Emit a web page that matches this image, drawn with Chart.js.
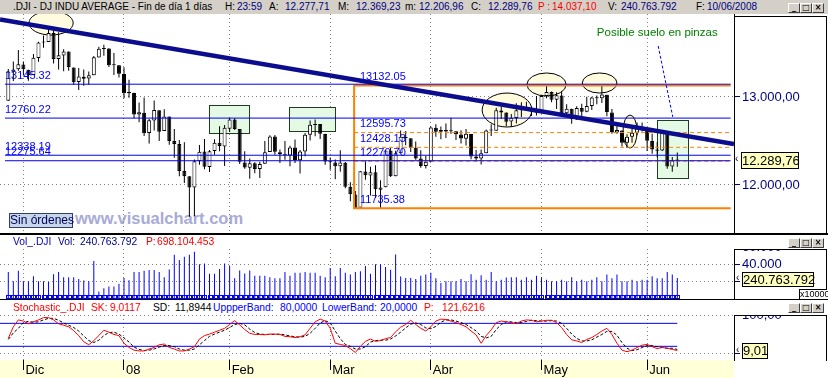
<!DOCTYPE html>
<html>
<head>
<meta charset="utf-8">
<script src="https://cdn.jsdelivr.net/npm/chart.js@4.4.1/dist/chart.umd.min.js"></script>
<style>
body{margin:0;width:828px;height:378px;position:relative;overflow:hidden;background:#fff;font-family:"Liberation Sans",Arial,sans-serif}
.a{position:absolute;white-space:nowrap;z-index:3}
.t{font-size:10px;line-height:14px;top:0}
.h{font-size:10.3px;line-height:13px}
.n{color:#000080}
.r{color:#ff0000}
.k{color:#000}
.b{color:#0000ff}
.pane{position:absolute;left:0;width:828px;z-index:1}
.btn{position:absolute;width:10px;height:8px;background:#d4d0c8;border:1px solid;border-color:#fff #404040 #404040 #fff;font:bold 8px/8px "DejaVu Sans",sans-serif;text-align:center;color:#000;z-index:3}
.box{position:absolute;border:1px solid #000;z-index:3}
.val{position:absolute;background:#ffffc0;border:1px solid #000;font-size:13px;text-align:center;z-index:3}
</style>
</head>
<body>
<!-- title bar -->
<div style="position:absolute;left:0;top:0;width:828px;height:14px;background:#d4d0c8;z-index:2"></div>
<span class="a t k" style="left:13px">.DJI - DJ INDU AVERAGE - Fin de día 1 días</span>
<span class="a t k" style="left:225px">H:</span><span class="a t n" style="left:237px">23:59</span>
<span class="a t k" style="left:269px">A:</span><span class="a t n" style="left:285px">12.277,71</span>
<span class="a t k" style="left:338px">M:</span><span class="a t n" style="left:356px">12.369,23</span>
<span class="a t k" style="left:405px">m:</span><span class="a t n" style="left:419px">12.206,96</span>
<span class="a t k" style="left:471px">C:</span><span class="a t n" style="left:488px">12.289,76</span>
<span class="a t r" style="left:538px">P :</span><span class="a t r" style="left:552px">14.037,10</span>
<span class="a t k" style="left:608px">V:</span><span class="a t n" style="left:621px">240.763.792</span>
<span class="a t k" style="left:696px">F:</span><span class="a t n" style="left:707px">10/06/2008</span>
<div class="btn" style="left:788px;top:3px">_</div><div class="btn" style="left:800px;top:3px">□</div><div class="btn" style="left:812px;top:3px">×</div>

<!-- watermark behind the price pane -->
<div class="a" style="left:75px;top:209px;font:bold 16.5px 'Liberation Sans',Arial,sans-serif;color:#a7abd6;z-index:0">www.visualchart.com</div>

<div class="pane" style="top:14px;height:219px"><canvas id="cMain"></canvas></div>
<div class="box" style="left:734px;top:16px;width:92px;height:216px;border-left:none;border-bottom:none"></div>
<div class="a" style="left:9px;top:213px;width:62px;height:13px;background:#c8d6ea;border:1px solid #2f3f6a;font-size:12px;line-height:13px;text-align:center;color:#00005a">Sin órdenes</div>
<div class="a" style="left:735px;top:153px;font-size:10px;line-height:12px">‹</div>
<div class="val" style="left:741px;top:152px;width:56px;height:15px;line-height:15px">12.289,76</div>

<!-- separator main / volume -->
<div style="position:absolute;left:0;top:233px;width:828px;height:2px;background:#000;z-index:2"></div>
<span class="a h" style="left:13px;top:235px;color:#0000b0">Vol_.DJI</span>
<span class="a h n" style="left:58px;top:235px">Vol:</span><span class="a h n" style="left:80px;top:235px">240.763.792</span>
<span class="a h r" style="left:146px;top:235px">P:</span><span class="a h r" style="left:157px;top:235px">698.104.453</span>
<div class="btn" style="left:788px;top:238px">_</div><div class="btn" style="left:800px;top:238px">□</div><div class="btn" style="left:812px;top:238px">×</div>

<div class="pane" style="top:249px;height:50px"><canvas id="cVol"></canvas></div>
<div class="box" style="left:734px;top:249px;width:92px;height:50px;border-left:none;border-bottom:none"></div>
<div class="a" style="left:736px;top:272px;font-size:10px;line-height:12px">‹</div>
<div class="val" style="left:742px;top:272px;width:70px;height:13px;line-height:13px">240.763.792</div>
<div class="box" style="left:799px;top:289px;width:27px;height:9px;border-bottom:none;border-right:none;background:#fff;font-size:9px;line-height:9px;text-align:center">x10000</div>

<!-- separator volume / stochastic -->
<div style="position:absolute;left:0;top:299px;width:828px;height:1px;background:#000;z-index:2"></div>
<span class="a h r" style="left:13px;top:301px">Stochastic_.DJI</span>
<span class="a h r" style="left:91px;top:301px">SK:</span><span class="a h r" style="left:110px;top:301px">9,0117</span>
<span class="a h k" style="left:153px;top:301px">SD:</span><span class="a h k" style="left:175px;top:301px">11,8944</span>
<span class="a h b" style="left:213px;top:301px">UppperBand:</span><span class="a h b" style="left:280px;top:301px">80,0000</span>
<span class="a h b" style="left:322px;top:301px">LowerBand:</span><span class="a h b" style="left:380px;top:301px">20,0000</span>
<span class="a h r" style="left:424px;top:301px">P:</span><span class="a h r" style="left:442px;top:301px">121,6216</span>
<div class="btn" style="left:788px;top:303px">_</div><div class="btn" style="left:800px;top:303px">□</div><div class="btn" style="left:812px;top:303px">×</div>

<div style="position:absolute;left:0;top:360px;width:734px;height:18px;background:#ffffd8;z-index:0"></div>
<div class="pane" style="top:315px;height:63px"><canvas id="cSto"></canvas></div>
<div class="box" style="left:734px;top:315px;width:92px;height:45px;border-left:none;border-bottom:none"></div>
<div class="a" style="left:736px;top:344px;font-size:10px;line-height:12px">‹</div>
<div class="val" style="left:742px;top:343px;width:24px;height:14px;line-height:14px">9,01</div>

<script>
// DJ INDU AVERAGE, daily, 28 Nov 2007 .. 10 Jun 2008 (one entry per session)
const open = [12958,13286,13314,13368,13310,13250,13442,13619,13626,13727,
  13433,13471,13516,13336,13170,13231,13209,13247,13450,13546,
  13550,13362,13362,13261,13044,13046,12801,12820,12590,12733,
  12850,12613,12777,12501,12467,12160,12100,11971,12270,12381,
  12205,12385,12480,12438,12638,12743,12635,12257,12197,12247,
  12181,12241,12376,12551,12371,12349,12334,12425,12281,12380,
  12570,12683,12694,12580,12264,12257,12213,12254,11979,11893,
  11742,12154,12107,12146,11946,11975,12388,12099,12361,12546,
  12532,12422,12302,12216,12265,12651,12604,12626,12610,12610,
  12575,12526,12579,12324,12301,12362,12618,12617,12847,12823,
  12721,12762,12849,12890,12870,12831,12818,13011,13057,12969,
  13016,12814,12866,12745,12876,12832,12898,12993,12986,13025,
  12825,12597,12620,12480,12547,12593,12647,12638,12501,12402,
  12391,12602,12210,12277.71];
const high = [13318,13402,13535,13404,13310,13490,13628,13700,13777,13781,
  13735,13544,13517,13336,13330,13313,13290,13465,13572,13595,
  13555,13499,13365,13338,13197,13049,12938,12993,12750,12960,
  12850,12860,12777,12636,12510,12486,12100,12289,12455,12522,
  12397,12519,12668,12681,12767,12759,12635,12384,12302,12259,
  12264,12501,12564,12567,12403,12500,12446,12518,12399,12590,
  12733,12745,12694,12581,12313,12289,12395,12260,12030,11932,
  12157,12271,12208,12225,12055,12392,12424,12389,12619,12614,
  12532,12494,12395,12333,12665,12690,12665,12698,12765,12612,
  12622,12636,12579,12397,12402,12631,12689,12877,12890,12824,
  12806,12930,12939,12947,12894,13010,13025,13136,13062,13054,
  13067,12918,12866,12896,12922,13002,13004,13018,13136,13025,
  12864,12712,12620,12578,12637,12710,12711,12638,12583,12490,
  12616,12602,12317,12369.23];
const low = [12958,13182,13297,13245,13184,13250,13400,13560,13626,13381,
  13312,13292,13297,13137,13080,13127,13138,13247,13448,13470,
  13342,13250,13222,12987,12991,12758,12712,12556,12472,12618,
  12501,12613,12456,12311,12100,12023,11640,11645,12230,12180,
  12149,12343,12383,12216,12601,12626,12239,12186,12071,12134,
  12080,12241,12376,12344,12250,12287,12213,12249,12131,12328,
  12506,12554,12522,12230,12172,12066,12150,11964,11815,11731,
  11742,12059,11880,11851,11731,11975,12092,12099,12361,12451,
  12374,12286,12196,12188,12265,12547,12520,12533,12581,12510,
  12472,12448,12293,12270,12232,12362,12558,12617,12750,12669,
  12660,12698,12774,12851,12783,12790,12815,12986,12940,12863,
  12800,12777,12697,12738,12780,12826,12852,12918,12932,12782,
  12581,12582,12437,12420,12480,12566,12607,12386,12356,12316,
  12385,12184,12150,12206.96];
const close = [13289,13312,13372,13315,13249,13445,13620,13626,13727,13433,
  13474,13518,13340,13167,13232,13207,13246,13451,13549,13552,
  13360,13366,13265,13044,13057,12800,12827,12589,12735,12853,
  12606,12778,12501,12466,12159,12099,11971,12270,12379,12207,
  12384,12480,12443,12650,12743,12635,12265,12200,12247,12182,
  12240,12373,12552,12377,12348,12337,12427,12284,12381,12570,
  12685,12694,12582,12266,12259,12214,12255,11980,11894,11740,
  12157,12110,12146,11951,11972,12393,12100,12361,12549,12533,
  12423,12302,12216,12263,12654,12606,12626,12609,12612,12576,
  12527,12582,12325,12302,12362,12619,12620,12849,12825,12720,
  12763,12849,12892,12872,12831,12820,13010,13058,12970,13021,
  12814,12867,12746,12876,12832,12898,12993,12987,13028,12829,
  12601,12626,12480,12548,12594,12646,12638,12504,12403,12390,
  12604,12210,12280,12289.76];
// volume in units of 10000
const volume = [31000,20400,32500,20400,20400,26300,20400,20400,19600,28600,
  31000,25100,25100,25100,23100,21200,20400,43900,8600,12500,
  14500,14500,17600,24300,21600,31000,31000,32500,33300,33300,
  31000,25100,34100,51000,45100,48600,51000,54500,40000,40800,
  29000,29000,34500,40800,38000,23900,32900,29400,32900,26700,
  26700,26700,25100,23900,23900,31000,26700,30200,30200,31000,
  30200,30200,26700,25100,35700,26300,35700,30200,28200,31000,
  32100,38000,29000,40000,40000,36800,33700,51400,25900,24300,
  24300,23100,26700,28200,30200,23900,18400,20400,20400,20400,
  23100,20400,28600,22300,27400,22300,31000,20400,22300,24700,
  25100,25100,22300,25100,22300,26700,25100,22300,20400,20400,
  22300,20400,25100,20400,22300,20400,22300,25100,20400,28200,
  23900,28200,20400,20400,22300,20400,22300,22300,26300,23900,
  23900,31000,28200,24076];
// stochastic %K and %D
const sk = [41,71,89,86,79,84,89,95,95,89,
  79,75,71,61,48,32,24,35,48,62,
  57,51,48,28,17,10,8,8,13,17,
  24,26,17,13,8,8,13,19,39,48,
  52,57,62,67,77,87,76,64,54,51,
  51,50,52,52,51,46,45,43,45,50,
  67,84,91,86,67,28,25,22,14,4,
  20,33,39,33,35,40,43,58,70,77,
  88,77,67,60,71,86,91,90,86,82,
  77,71,60,50,28,48,63,82,86,84,
  82,79,86,89,88,84,86,88,88,82,
  69,51,37,34,30,38,43,51,60,67,
  51,28,10,6,10,17,23,25,19,14,
  17,15,12,9.01];
const sd = [38,55,67,82,85,83,84,89,93,93,
  88,81,75,69,60,47,35,30,36,48,
  56,57,52,42,31,18,12,9,10,13,
  18,22,22,19,13,10,10,13,24,35,
  46,52,57,62,69,77,80,76,65,56,
  52,51,51,51,52,50,47,45,44,46,
  54,67,81,87,81,60,40,25,20,13,
  13,19,31,35,36,36,39,47,57,68,
  78,81,77,68,66,72,83,89,89,86,
  82,77,69,60,46,42,46,64,77,84,
  84,82,82,85,88,87,86,86,87,86,
  80,67,52,41,34,34,37,44,51,59,
  59,49,30,15,9,11,17,22,22,19,
  17,15,15,11.89];

const monthStart = [3, 23, 44, 64, 84, 106, 127];
const monthLabels = ['Dic', '08', 'Feb', 'Mar', 'Abr', 'May', 'Jun'];
const priceTicks = [12000, 13000];
const volumeTicks = [20000, 40000, 60000];
const stochTicks = [0, 100];
const bands = [80, 20];

// drawn studies (index, price)
const levelValues = [13145.32, 12760.22, 12338.19, 12275.64];
const fibValues = [13132.05, 12595.73, 12428.13, 12270.70, 11735.38];
const trendLine = [[-1.65, 13881], [144.27, 12466]];
const noteLine = [[129.2, 13580], [132.1, 12773]];
const greenBoxes = [[39.9, 47.9, 12591, 12909], [55.8, 65.0, 12614, 12886], [129.0, 135.1, 12080, 12739]];
const ovals = [[4.1, 12.9, 13704, 13977], [94.2, 104.1, 12659, 13045], [103.1, 110.9, 13011, 13273],
  [114.1, 121.0, 13045, 13273], [122.2, 125.0, 12420, 12795]];
const note = { text: 'Posible suelo en pinzas', x: 117, y: 13727 };

const xMin = -1.65, xMax = 144.27;
const levelFrom = -0.66, lineTo = 143.6, fibFrom = 68.75, fibLabelX = 69.9;

const FONT = '"Liberation Sans", Arial, sans-serif';
Chart.defaults.font.family = FONT;

function fmtEs(v, dec) {
  const p = v.toFixed(dec).split('.');
  p[0] = p[0].replace(/\B(?=(\d{3})+(?!\d))/g, '.');
  return p.join(',');
}
const idx = close.map((_, i) => i);
const noPad = s => { s.paddingTop = 0; s.paddingBottom = 0; s.paddingLeft = 0; s.paddingRight = 0; };

function xAxis(extra) {
  return Object.assign({
    type: 'linear', min: xMin, max: xMax, offset: false,
    afterBuildTicks: s => { s.ticks = monthStart.map(v => ({ value: v })); },
    afterFit: s => { s.height = 0; noPad(s); },
    ticks: { display: false },
    grid: { color: '#808080', offset: false, drawTicks: false },
    border: { display: false, dash: [1, 3] }
  }, extra || {});
}
function yAxis(min, max, ticks, fmt) {
  return {
    type: 'linear', position: 'right', min: min, max: max,
    afterBuildTicks: s => { s.ticks = ticks.map(v => ({ value: v })); },
    afterFit: s => { s.width = 94; noPad(s); },
    ticks: { color: '#000080', font: { size: 13 }, padding: 2, autoSkip: false, callback: fmt },
    grid: { color: '#808080', tickColor: '#000080', tickLength: 6 },
    border: { display: true, color: '#000', width: 1, dash: [1, 3] }
  };
}
function seg(pts, color, width, dash, order) {
  return { type: 'line', data: pts.map(p => ({ x: p[0], y: p[1] })), borderColor: color, borderWidth: width,
    borderDash: dash || [], pointRadius: 0, order: order, clip: 0, tension: 0 };
}

const studies = {
  id: 'studies',
  beforeDatasetsDraw(chart) {
    const { ctx, chartArea: a, scales: { x, y } } = chart;
    ctx.save();
    ctx.beginPath(); ctx.rect(a.left, a.top, a.width, a.height); ctx.clip();
    ovals.forEach(o => {
      const x0 = x.getPixelForValue(o[0]), x1 = x.getPixelForValue(o[1]);
      const y0 = y.getPixelForValue(o[2]), y1 = y.getPixelForValue(o[3]);
      ctx.beginPath();
      ctx.ellipse((x0 + x1) / 2, (y0 + y1) / 2, Math.abs(x1 - x0) / 2, Math.abs(y1 - y0) / 2, 0, 0, Math.PI * 2);
      ctx.fillStyle = '#fffbdf'; ctx.fill();
      ctx.strokeStyle = '#000'; ctx.lineWidth = 1; ctx.stroke();
    });
    greenBoxes.forEach(b => {
      const x0 = Math.round(x.getPixelForValue(b[0])) + 0.5, x1 = Math.round(x.getPixelForValue(b[1])) + 0.5;
      const y0 = Math.round(y.getPixelForValue(b[3])) + 0.5, y1 = Math.round(y.getPixelForValue(b[2])) + 0.5;
      ctx.fillStyle = '#e4fae4'; ctx.fillRect(x0, y0, x1 - x0, y1 - y0);
      ctx.strokeStyle = '#1f3d1f'; ctx.lineWidth = 1; ctx.strokeRect(x0, y0, x1 - x0, y1 - y0);
    });
    ctx.restore();
  },
  afterDatasetsDraw(chart) {
    const { ctx, scales: { x, y } } = chart;
    ctx.save();
    ctx.font = '11px ' + FONT;
    ctx.fillStyle = '#0000ff';
    ctx.textBaseline = 'bottom';
    levelValues.forEach(v => ctx.fillText(v.toFixed(2), x.getPixelForValue(levelFrom), y.getPixelForValue(v) - 3));
    fibValues.forEach(v => ctx.fillText(v.toFixed(2), x.getPixelForValue(fibLabelX), y.getPixelForValue(v) - 3));
    ctx.fillStyle = '#008000';
    ctx.textBaseline = 'middle';
    ctx.font = '11.5px ' + FONT;
    ctx.fillText(note.text, x.getPixelForValue(note.x), y.getPixelForValue(note.y));
    ctx.restore();
  }
};

const priceMin = 11454.5, priceMax = 13943.2;
new Chart(document.getElementById('cMain'), {
  type: 'bar',
  data: {
    datasets: [
      seg(trendLine, '#0c0c8e', 4.5, [], -2),
      ...levelValues.map(v => seg([[levelFrom, v], [lineTo, v]], '#0000f0', 1, [], -1)),
      seg([[lineTo, fibValues[0]], [fibFrom, fibValues[0]], [fibFrom, fibValues[4]], [lineTo, fibValues[4]]], '#ff8000', 2, [], 0),
      ...fibValues.slice(1, 4).map(v => seg([[fibFrom, v], [lineTo, v]], '#ff8000', 1, [4, 3], 0)),
      seg(noteLine, '#0000ff', 1, [3, 2], -1),
      { type: 'bar', data: idx.map(i => ({ x: i, y: [open[i], close[i]] })),
        backgroundColor: idx.map(i => close[i] >= open[i] ? '#ffffff' : '#000000'),
        borderColor: '#000', borderWidth: 1, borderSkipped: false, barThickness: 4, minBarLength: 1,
        grouped: false, inflateAmount: 0, order: 2 },
      { type: 'bar', data: idx.map(i => ({ x: i, y: [low[i], high[i]] })),
        backgroundColor: '#000', borderWidth: 0, barThickness: 1, grouped: false, inflateAmount: 0, order: 3 }
    ]
  },
  options: {
    responsive: true, maintainAspectRatio: false, animation: false, events: [],
    layout: { padding: 0 },
    plugins: { legend: { display: false }, tooltip: { enabled: false } },
    scales: { x: xAxis(), y: yAxis(priceMin, priceMax, priceTicks, v => fmtEs(v, 2)) }
  },
  plugins: [studies]
});

const volBase = {
  id: 'volBase',
  afterDatasetsDraw(chart) {
    const { ctx, scales: { x, y } } = chart;
    ctx.save();
    ctx.strokeStyle = '#0000ff'; ctx.lineWidth = 1;
    const base = Math.round(y.getPixelForValue(0));
    volume.forEach((v, i) => {
      const px = Math.round(x.getPixelForValue(i));
      ctx.strokeRect(px - 2 + 0.5, base - 4 + 0.5, 4, 3);
    });
    ctx.restore();
  }
};
new Chart(document.getElementById('cVol'), {
  type: 'bar',
  data: {
    datasets: [{ data: idx.map(i => ({ x: i, y: volume[i] })), backgroundColor: '#0000ff',
      barThickness: 1, grouped: false, inflateAmount: 0, borderWidth: 0 }]
  },
  options: {
    responsive: true, maintainAspectRatio: false, animation: false, events: [],
    layout: { padding: 0 },
    plugins: { legend: { display: false }, tooltip: { enabled: false } },
    scales: { x: xAxis(), y: yAxis(0, 57637, volumeTicks, v => v === 20000 ? '' : fmtEs(v, 0)) }
  },
  plugins: [volBase]
});

new Chart(document.getElementById('cSto'), {
  type: 'line',
  data: {
    datasets: [
      { data: idx.map(i => ({ x: i, y: sk[i] })), borderColor: '#ff0000', borderWidth: 1, pointRadius: 0, order: 0 },
      { data: idx.map(i => ({ x: i, y: sd[i] })), borderColor: '#000', borderWidth: 1, borderDash: [3, 2], pointRadius: 0, order: 1 },
      ...bands.map(b => seg([[xMin, b], [idx.length - 1, b]], '#0000ff', 1, [], 2))
    ]
  },
  options: {
    responsive: true, maintainAspectRatio: false, animation: false, events: [],
    layout: { padding: 0 },
    plugins: { legend: { display: false }, tooltip: { enabled: false } },
    scales: {
      x: xAxis({
        afterFit: s => { s.height = 18; noPad(s); },
        ticks: { display: true, align: 'start', labelOffset: 2, padding: -7, autoSkip: false, maxRotation: 0,
          color: '#000', font: { size: 13 }, callback: v => monthLabels[monthStart.indexOf(v)] },
        grid: { color: '#808080', offset: false, drawTicks: true, tickLength: 10, tickColor: '#000' }
      }),
      y: yAxis(-15.7, 101.8, stochTicks, v => v === 0 ? '' : fmtEs(v, 2))
    }
  }
});
</script>
</body>
</html>
